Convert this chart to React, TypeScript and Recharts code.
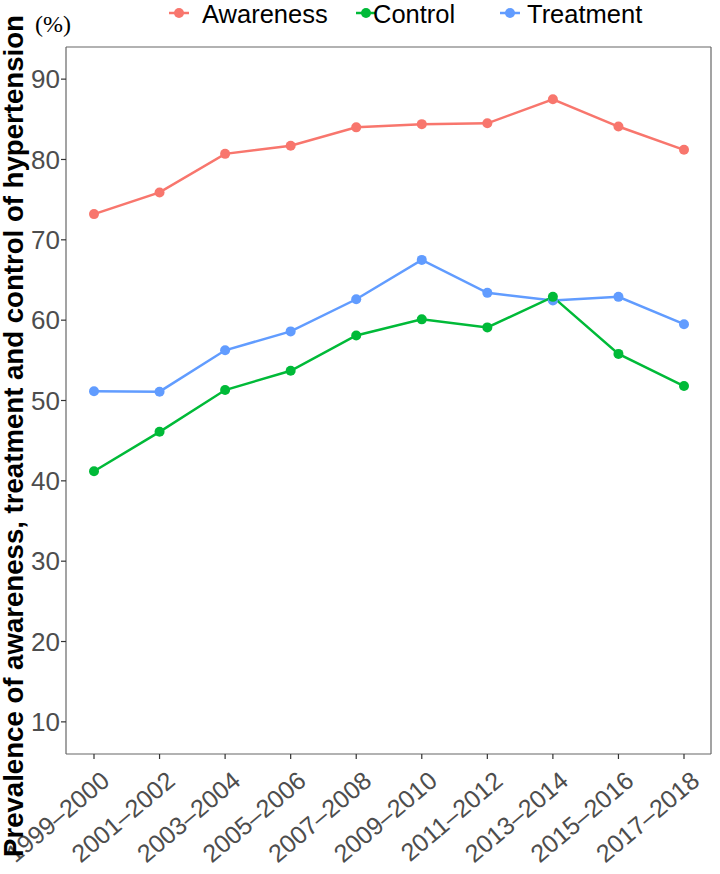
import React from 'react';
import { LineChart, Line, XAxis, YAxis } from 'recharts';

const periods = ['1999–2000', '2001–2002', '2003–2004', '2005–2006', '2007–2008', '2009–2010', '2011–2012', '2013–2014', '2015–2016', '2017–2018'];
const awareness = [73.2, 75.9, 80.7, 81.7, 84.0, 84.4, 84.5, 87.5, 84.1, 81.2];
const control = [41.2, 46.1, 51.3, 53.7, 58.1, 60.1, 59.1, 62.9, 55.8, 51.8];
const treatment = [51.15, 51.1, 56.25, 58.6, 62.6, 67.5, 63.4, 62.45, 62.9, 59.5];
const yTicks = [10, 20, 30, 40, 50, 60, 70, 80, 90];

const colors: Record<string, string> = { Awareness: '#F8766D', Control: '#00BA38', Treatment: '#619CFF' };

const data = periods.map((p, i) => ({
  period: p,
  Awareness: awareness[i],
  Control: control[i],
  Treatment: treatment[i],
}));

const FONT = '"Liberation Sans", Arial, sans-serif';

const XTick = (props: any) => {
  const { x, y, payload } = props;
  return (
    <g transform={`translate(${x + 5},${y + 8})`}>
      <text x={0} y={0} dy="0.75em" textAnchor="end" transform="rotate(-40)" fontSize={25} fill="#4d4d4d" fontFamily={FONT}>
        {payload.value}
      </text>
    </g>
  );
};

const legendItems = [
  { name: 'Awareness', keyX: 179, textX: 202 },
  { name: 'Control', keyX: 366, textX: 373 },
  { name: 'Treatment', keyX: 510, textX: 527 },
];

export default function App() {
  return (
    <div style={{ position: 'absolute', left: 0, top: 0, width: 720, height: 874, background: '#fff' }}>
      <LineChart width={720} height={874} data={data} margin={{ top: 46, right: 8, bottom: 10, left: 0 }}>
        <XAxis
          dataKey="period"
          interval={0}
          padding={{ left: 28, right: 27 }}
          height={110}
          tick={<XTick />}
          tickSize={5}
          tickMargin={2}
          axisLine={{ stroke: '#666', strokeWidth: 1.2 }}
          tickLine={{ stroke: '#333', strokeWidth: 1.2 }}
        />
        <XAxis
          xAxisId="top"
          dataKey="period"
          orientation="top"
          height={1}
          tick={false}
          tickLine={false}
          axisLine={{ stroke: '#666', strokeWidth: 1.2 }}
        />
        <YAxis
          domain={[6, 94]}
          ticks={yTicks}
          width={66}
          tickSize={5}
          tickMargin={1}
          tick={{ fontSize: 26, fill: '#4d4d4d', fontFamily: FONT }}
          axisLine={{ stroke: '#666', strokeWidth: 1.2 }}
          tickLine={{ stroke: '#333', strokeWidth: 1.2 }}
        />
        <YAxis
          yAxisId="right"
          orientation="right"
          domain={[6, 94]}
          width={1}
          tick={false}
          tickLine={false}
          axisLine={{ stroke: '#666', strokeWidth: 1.2 }}
        />
        <Line dataKey="Awareness" stroke={colors.Awareness} strokeWidth={2.5} dot={{ r: 5, fill: colors.Awareness, stroke: 'none' }} activeDot={false} isAnimationActive={false} />
        <Line dataKey="Treatment" stroke={colors.Treatment} strokeWidth={2.5} dot={{ r: 5, fill: colors.Treatment, stroke: 'none' }} activeDot={false} isAnimationActive={false} />
        <Line dataKey="Control" stroke={colors.Control} strokeWidth={2.5} dot={{ r: 5, fill: colors.Control, stroke: 'none' }} activeDot={false} isAnimationActive={false} />
      </LineChart>
      <svg width={720} height={874} style={{ position: 'absolute', left: 0, top: 0, pointerEvents: 'none' }}>
        <text transform="translate(23,857) rotate(-90)" x={0} y={0} textAnchor="start" fontSize={27.6} fontWeight="bold" fill="#000" fontFamily={FONT}>
          Prevalence of awareness, treatment and control of hypertension
        </text>
        <text x={35} y={32} fontSize={24} fill="#000" fontFamily='"Liberation Serif", "Times New Roman", serif'>(%)</text>
        {legendItems.map((it) => (
          <g key={it.name}>
            <line x1={it.keyX - 10} x2={it.keyX + 10} y1={13} y2={13} stroke={colors[it.name]} strokeWidth={2.5} />
            <circle cx={it.keyX} cy={13} r={5} fill={colors[it.name]} />
            <text x={it.textX} y={23} fontSize={25.5} fill="#000" fontFamily={FONT}>{it.name}</text>
          </g>
        ))}
      </svg>
    </div>
  );
}
